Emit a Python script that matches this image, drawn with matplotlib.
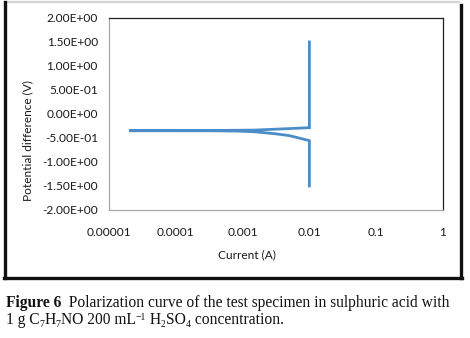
import matplotlib
matplotlib.use('Agg')
from matplotlib import pyplot as plt
from matplotlib.lines import Line2D

# polarization data
current = [0.01, 0.01, 0.005, 0.003, 0.0015, 0.0008, 0.0003, 0.0001, 0.00002,
           0.0001, 0.0005, 0.0015, 0.004, 0.01, 0.01]
potential = [-1.5, -0.555, -0.45, -0.41, -0.37, -0.355, -0.35, -0.35, -0.348,
             -0.346, -0.342, -0.335, -0.31, -0.285, 1.5]

yticks = [2.0, 1.5, 1.0, 0.5, 0.0, -0.5, -1.0, -1.5, -2.0]
xticks = [0.00001, 0.0001, 0.001, 0.01, 0.1, 1]
xlabels = ['0.00001', '0.0001', '0.001', '0.01', '0.1', '1']

plt.rcParams['font.family'] = ['Lato', 'DejaVu Sans']

fig = plt.figure(figsize=(4.7, 3.38), dpi=100)
W, H = 470, 338
ax = fig.add_axes([109 / W, 1 - 210 / H, (443 - 109) / W, (210 - 18) / H])

ax.plot(current, potential, color='#4a8dc8', lw=2.0, solid_joinstyle='miter')
ax.set_xscale('log')
ax.set_xlim(1e-5, 1)
ax.set_ylim(-2, 2)
ax.minorticks_off()
ax.set_xticks(xticks, xlabels)
ax.set_yticks(yticks, [f'{v:.2E}' for v in yticks])
ax.tick_params(length=0, labelsize=8.6, colors='#1a1a1a')
ax.tick_params(axis='x', pad=12)
ax.tick_params(axis='y', pad=8)

for s in ['top', 'right']:
    ax.spines[s].set_color('#222222')
for s in ['left', 'bottom']:
    ax.spines[s].set_color('#a8a8a8')
for s in ax.spines.values():
    s.set_linewidth(0.9)

fig.text(247 / W, 1 - 255 / H, 'Current (A)', ha='center', va='center', fontsize=8.6, color='#1a1a1a')
fig.text(28 / W, 1 - 141 / H, 'Potential difference (V)', ha='center', va='center',
         rotation=90, fontsize=8.6, color='#1a1a1a')

# outer frame of the chart
fig.add_artist(Line2D([5 / W, 459 / W], [1 - 2 / H, 1 - 2 / H], color='#d4d4d4', lw=1.6))
fig.add_artist(Line2D([4.5 / W, 4.5 / W], [1 - 2 / H, 1 - 278 / H], color='#111111', lw=2.4))
fig.add_artist(Line2D([460.5 / W, 460.5 / W], [1 - 5 / H, 1 - 278 / H], color='#111111', lw=2.4))
fig.add_artist(Line2D([3.5 / W, 461.5 / W], [1 - 278 / H, 1 - 278 / H], color='#111111', lw=2.4))

# caption, written piece by piece so sub/superscripts stay small
serif = ['Liberation Serif', 'DejaVu Serif']


def caption_line(pieces, x, y):
    for txt, shift, size, weight in pieces:
        t = fig.text(x / W, 1 - (y - shift) / H, txt, fontsize=size, fontweight=weight,
                     family=serif, color='#111111', va='baseline')
        fig.canvas.draw()
        x = t.get_window_extent().x1


fs, ss = 11.2, 7.0
caption_line([('Figure 6', 0, fs, 'bold'),
              ('  Polarization curve of the test specimen in sulphuric acid with', 0, fs, 'normal')],
             6, 307)
caption_line([('1 g C', 0, fs, 'normal'), ('7', -3, ss, 'normal'), ('H', 0, fs, 'normal'),
              ('7', -3, ss, 'normal'), ('NO 200 mL', 0, fs, 'normal'), ('\u22121', 4, ss, 'normal'),
              (' H', 0, fs, 'normal'), ('2', -3, ss, 'normal'), ('SO', 0, fs, 'normal'),
              ('4', -3, ss, 'normal'), (' concentration.', 0, fs, 'normal')],
             6, 324)

fig.savefig('out.png', dpi=100)
